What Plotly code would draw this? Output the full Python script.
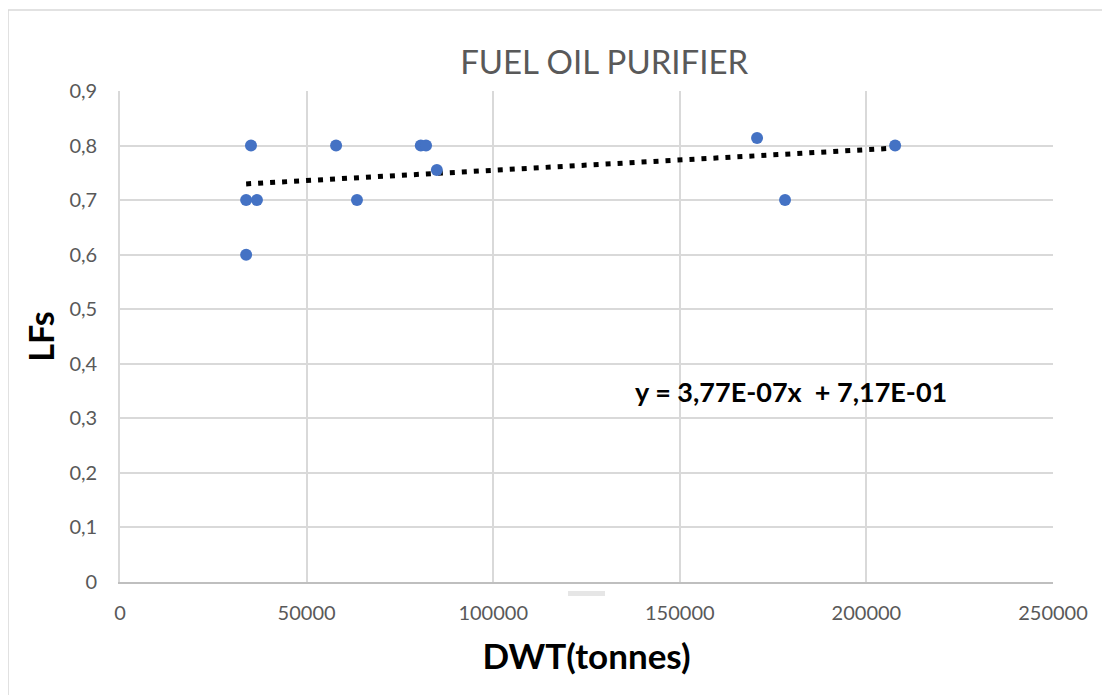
import plotly.graph_objects as go

# ---- data ----
dwt = [33800, 33800, 36700, 35100, 57900, 63500, 80600, 82000, 84900, 170700, 178200, 207700]
lfs = [0.60, 0.70, 0.70, 0.80, 0.80, 0.70, 0.80, 0.80, 0.755, 0.814, 0.70, 0.80]

slope = 3.77e-07
intercept = 0.717
equation_text = "y = 3,77E-07x\u00a0 + 7,17E-01"

title_text = "FUEL OIL PURIFIER"
x_title = "DWT(tonnes)"
y_title = "LFs"

x_tickvals = [0, 50000, 100000, 150000, 200000, 250000]
x_ticktext = ["0", "50000", "100000", "150000", "200000", "250000"]
y_tickvals = [0, 0.1, 0.2, 0.3, 0.4, 0.5, 0.6, 0.7, 0.8, 0.9]
y_ticktext = ["0", "0,1", "0,2", "0,3", "0,4", "0,5", "0,6", "0,7", "0,8", "0,9"]

# trendline from fitted coefficients across the data range
trend_x = [min(dwt), max(dwt)]
trend_y = [slope * v + intercept for v in trend_x]

FONT = "Lato"
GRID = "#d9d9d9"
TICK = "#595959"

fig = go.Figure()
fig.add_trace(go.Scatter(
    x=trend_x, y=trend_y, mode="lines",
    line=dict(color="black", width=5, dash="5px,7px"),
    hoverinfo="skip", showlegend=False))
fig.add_trace(go.Scatter(
    x=dwt, y=lfs, mode="markers",
    marker=dict(color="#4472C4", size=12, line=dict(width=0)),
    showlegend=False))

fig.update_layout(
    width=1102, height=687,
    margin=dict(l=112, r=57, t=83, b=113),
    paper_bgcolor="white", plot_bgcolor="white",
    font=dict(family=FONT, color=TICK),
    title=dict(text=title_text, x=0.541, xanchor="center", y=0.921, yanchor="middle",
               font=dict(family=FONT, size=33, color=TICK)),
    showlegend=False,
    annotations=[
        dict(text=equation_text, x=0.719, y=0.387, xref="paper", yref="paper",
             xanchor="center", yanchor="middle", showarrow=False,
             font=dict(family=FONT, size=27, color="black", weight="bold")),
    ],
    shapes=[
        dict(type="rect", xref="paper", yref="paper", x0=-0.12, x1=1.3, y0=-0.4, y1=1.165,
             line=dict(color="#d9d9d9", width=1.5), fillcolor="rgba(0,0,0,0)", layer="below"),
        dict(type="rect", xref="paper", yref="paper",
             x0=(568 - 120) / 933, x1=(605 - 120) / 933,
             y0=(582 - 596) / 491, y1=(582 - 591) / 491,
             line=dict(width=0), fillcolor="#e6e6e6"),
    ],
)

fig.update_xaxes(
    range=[0, 250000], tickvals=x_tickvals, ticktext=x_ticktext,
    showgrid=True, gridcolor=GRID, gridwidth=1.6,
    showline=True, linecolor="#bfbfbf", linewidth=1.6, mirror=False,
    zeroline=False, ticks="", ticklabelstandoff=12,
    tickfont=dict(family=FONT, size=20, color=TICK),
    title=dict(text=x_title, standoff=22,
               font=dict(family=FONT, size=35, color="black", weight="bold")),
)
fig.update_yaxes(
    range=[0, 0.9], tickvals=y_tickvals, ticktext=y_ticktext,
    showgrid=True, gridcolor=GRID, gridwidth=1.6,
    showline=True, linecolor=GRID, linewidth=1.6,
    zeroline=False, ticks="", ticklabelstandoff=17,
    tickfont=dict(family=FONT, size=20, color=TICK),
    title=dict(text=y_title, standoff=5,
               font=dict(family=FONT, size=34, color="black", weight="bold")),
)

fig.write_html("out.html")
